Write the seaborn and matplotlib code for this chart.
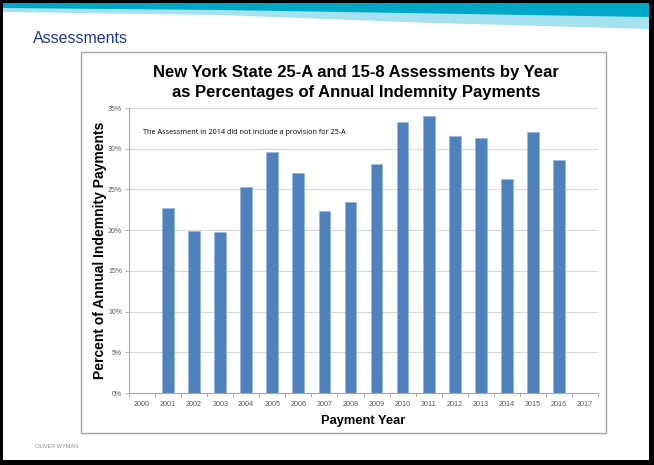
import matplotlib
matplotlib.use("Agg")
import matplotlib.pyplot as plt
import seaborn as sns
import pandas as pd
import numpy as np
from matplotlib.patches import Rectangle, Polygon
from matplotlib.ticker import PercentFormatter, FixedLocator, NullFormatter

years = [str(y) for y in range(2000, 2018)]
values = [np.nan, 0.227, 0.199, 0.198, 0.253, 0.296, 0.270, 0.224, 0.235, 0.281,
          0.333, 0.340, 0.316, 0.313, 0.263, 0.320, 0.286, np.nan]

title_line1 = "New York State 25-A and 15-8 Assessments by Year"
title_line2 = "as Percentages of Annual Indemnity Payments"
note_text = "The Assessment in 2014 did not include a provision for 25-A"
ylabel_text = "Percent of Annual Indemnity Payments"
xlabel_text = "Payment Year"
slide_title = "Assessments"
footer_text = "OLIVER WYMAN"

sns.set_theme(style="white")
plt.rcParams['font.family'] = ['Liberation Sans', 'DejaVu Sans']

W, H = 654, 465
fig = plt.figure(figsize=(W / 100, H / 100), dpi=100)
fig.patch.set_facecolor("white")

def fx(x):
    return x / W

def fy(y):
    return 1 - y / H

# slide border (black) and white interior
fig.patches.append(Rectangle((0, 0), 1, 1, transform=fig.transFigure, facecolor="black", edgecolor="none", zorder=-10))
fig.patches.append(Rectangle((fx(3), fy(460)), fx(649) - fx(3), fy(3) - fy(460), transform=fig.transFigure,
                             facecolor="white", edgecolor="none", zorder=-9))
# light blue wedge and teal band
fig.patches.append(Polygon([(fx(3), fy(3)), (fx(649), fy(3)), (fx(649), fy(29)), (fx(434), fy(23)), (fx(220), fy(15)), (fx(3), fy(12))],
                           closed=True, transform=fig.transFigure, facecolor="#A6E1F0", edgecolor="none", zorder=-8))
fig.patches.append(Polygon([(fx(3), fy(3)), (fx(649), fy(3)), (fx(649), fy(17)), (fx(220), fy(10)), (fx(3), fy(8))],
                           closed=True, transform=fig.transFigure, facecolor="#00A8C8", edgecolor="none", zorder=-7))
# chart frame
fig.patches.append(Rectangle((fx(81), fy(433)), fx(606) - fx(81), fy(52) - fy(433), transform=fig.transFigure,
                             facecolor="white", edgecolor="#A6A6A6", linewidth=1.0, zorder=-6))

fig.text(fx(33), fy(38), slide_title, fontsize=11.5, color="#1F3A8A", ha="left", va="center")
fig.text(fx(35), fy(446), footer_text, fontsize=4, color="#8C8C8C", ha="left", va="center")

ax = fig.add_axes([fx(129), fy(393), fx(598) - fx(129), fy(108) - fy(393)])
ax.set_facecolor("none")

df = pd.DataFrame({"year": years, "value": values})
sns.barplot(data=df, x="year", y="value", order=years, color="#4F81BD", saturation=1,
            width=0.45, ax=ax, edgecolor="#8EB4E3", linewidth=0.4)

ax.set_xlim(-0.5, len(years) - 0.5)
ax.set_ylim(0, 0.35)
ax.set_yticks(np.arange(0, 0.351, 0.05))
ax.yaxis.set_major_formatter(PercentFormatter(1.0, decimals=0))
ax.yaxis.grid(True, color="#D9D9D9", linewidth=0.8)
ax.set_axisbelow(True)
for s in ["top", "right"]:
    ax.spines[s].set_visible(False)
for s in ["left", "bottom"]:
    ax.spines[s].set_color("#A6A6A6")
    ax.spines[s].set_linewidth(0.8)

ax.tick_params(axis="y", labelsize=5, labelcolor="#595959", length=3, width=0.6, color="#A6A6A6", pad=2, left=True)
ax.tick_params(axis="x", which="major", labelsize=5.2, labelcolor="#595959", length=0, pad=6)
ax.xaxis.set_minor_locator(FixedLocator(np.arange(-0.5, len(years), 1.0)))
ax.xaxis.set_minor_formatter(NullFormatter())
ax.tick_params(axis="x", which="minor", length=3, width=0.6, color="#A6A6A6", bottom=True)

ax.set_xlabel(xlabel_text, fontsize=9.3, fontweight="bold", color="black", labelpad=5)
ax.set_ylabel(ylabel_text, fontsize=10, fontweight="bold", color="black")
ax.yaxis.set_label_coords((107 - 129) / (598 - 129), 0.5)

fig.text(fx(356), fy(73), title_line1, fontsize=12, fontweight="bold", color="black", ha="center", va="center")
fig.text(fx(356), fy(93), title_line2, fontsize=12, fontweight="bold", color="black", ha="center", va="center")
fig.text(fx(143), fy(132), note_text, fontsize=5.2, color="black", ha="left", va="center",
         family=["Open Sans", "DejaVu Sans"])

fig.savefig("out.png", dpi=100, facecolor=fig.get_facecolor())
